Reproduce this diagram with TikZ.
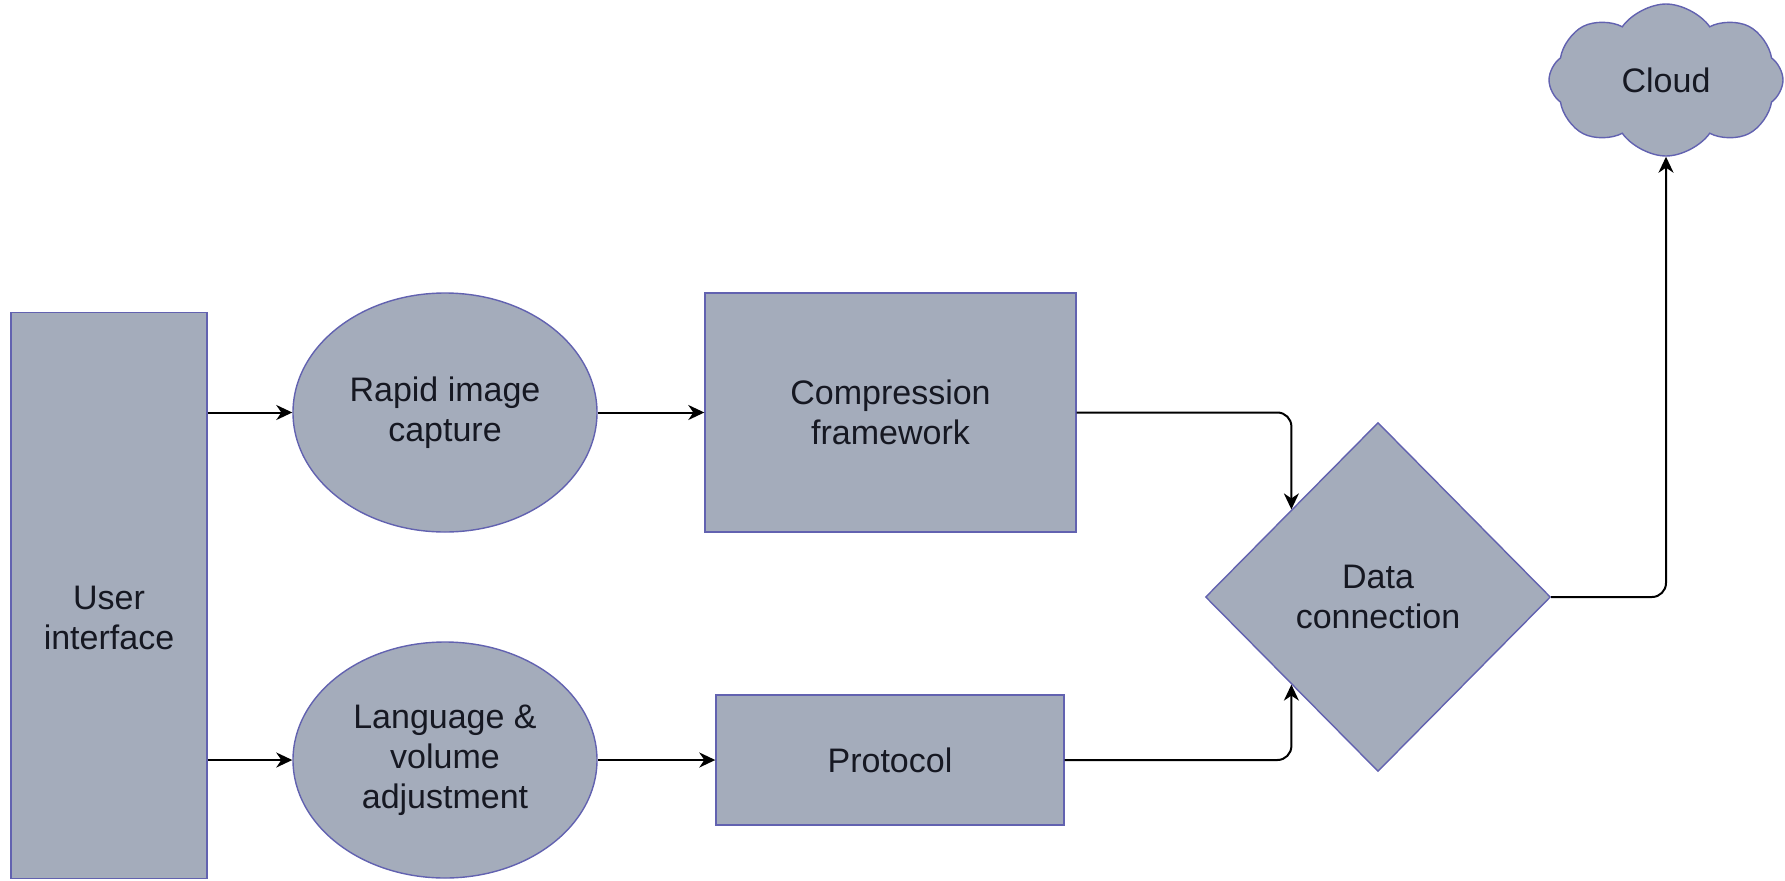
\documentclass[tikz,border=0pt]{standalone}
\usepackage{fontspec}
\setmainfont{Liberation Sans}
\usetikzlibrary{arrows.meta,shapes.geometric,shapes.symbols}
\definecolor{boxfill}{RGB}{164,172,187}
\definecolor{boxline}{RGB}{98,98,176}
\definecolor{txtcol}{RGB}{22,24,34}

\begin{document}
\begin{tikzpicture}[x=0.5pt,y=-0.5pt,>={Stealth[length=8pt,width=7.5pt,inset=2.5pt]},line width=1pt,
  blk/.style={draw=boxline,fill=boxfill,line width=0.7pt,text=txtcol,align=center,inner sep=0pt,font=\fontsize{17}{20}\selectfont},
  flow/.style={->,rounded corners=7pt}]
\useasboundingbox (0,0) rectangle (1785,880);
\node[blk, rectangle, minimum width=98pt, minimum height=283pt, label={[blk,draw=none,fill=none,yshift=-11pt]center:User\\interface}] (ui) at (109,595.5) {};
\node[blk, ellipse, minimum width=152pt, minimum height=119.5pt] (rapid) at (445,412.5) {Rapid image\\capture};
\node[blk, ellipse, minimum width=152pt, minimum height=118pt] (lang) at (445,760) {Language \&\\volume\\adjustment};
\node[blk, rectangle, minimum width=185.5pt, minimum height=119.5pt] (comp) at (890.5,412.5) {Compression\\framework};
\node[blk, rectangle, minimum width=174pt, minimum height=65pt] (proto) at (890,760) {Protocol};
\node[blk, diamond, minimum width=172.5pt, minimum height=174.5pt] (data) at (1378,597) {Data\\connection};
\node[blk, cloud, cloud puffs=8, cloud puff arc=110, cloud ignores aspect, minimum width=117pt, minimum height=76pt] (cloud) at (1666,80) {Cloud};
\draw[->] (rapid.west -| ui.east) -- (rapid.west);
\draw[->] (lang.west -| ui.east) -- (lang.west);
\draw[->] (rapid.east) -- (comp.west);
\draw[->] (lang.east) -- (proto.west);
\draw[flow] (comp.east) -| (data.north west);
\draw[flow] (proto.east) -| (data.south west);
\draw[flow] (data.east) -| (cloud.south);
\end{tikzpicture}
\end{document}
